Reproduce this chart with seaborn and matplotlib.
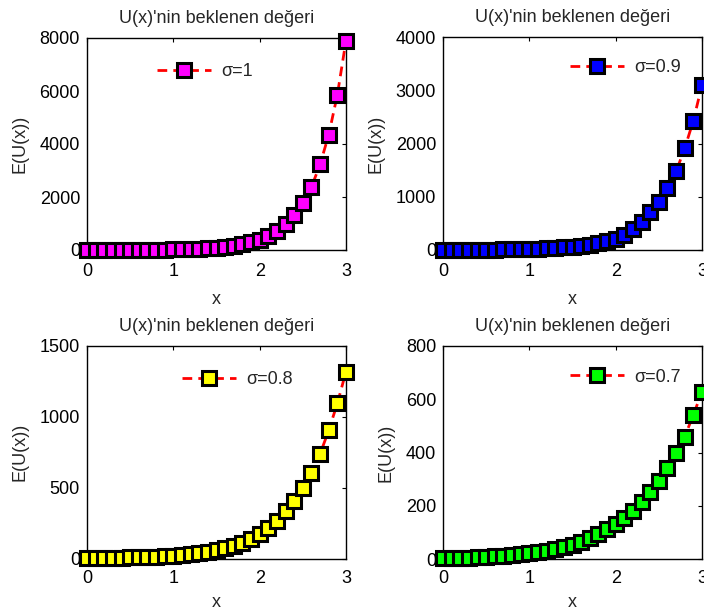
import matplotlib
matplotlib.use("Agg")
import matplotlib.pyplot as plt
import seaborn as sns
import pandas as pd

x = [0.0, 0.1, 0.2, 0.3, 0.4, 0.5, 0.6, 0.7, 0.8, 0.9,
     1.0, 1.1, 1.2, 1.3, 1.4, 1.5, 1.6, 1.7, 1.8, 1.9,
     2.0, 2.1, 2.2, 2.3, 2.4, 2.5, 2.6, 2.7, 2.8, 2.9, 3.0]

eu_s10 = [1, 1.3, 1.8, 2.5, 3.3, 4.5, 6, 8, 11, 15,
          20, 27, 37, 49, 66, 90, 121, 164, 222, 300,
          395, 540, 720, 975, 1320, 1790, 2380, 3230, 4350, 5860, 7900]
eu_s09 = [2, 2.5, 3.2, 4, 5, 6.5, 8, 10, 13, 16,
          20, 25, 31, 39, 49, 62, 78, 98, 123, 160,
          215, 290, 395, 535, 705, 905, 1160, 1475, 1910, 2430, 3100]
eu_s08 = [3, 3.5, 4.2, 5, 6, 7.5, 9, 11, 13.5, 17,
          21, 26, 32, 39, 48, 59, 72, 88, 108, 135,
          172, 212, 265, 332, 408, 500, 607, 738, 905, 1095, 1320]
eu_s07 = [4, 4.5, 5, 5.5, 6.5, 8, 10, 12, 15, 18.5,
          22, 26, 31, 36, 44, 53, 64, 78, 94, 112,
          131, 153, 180, 213, 250, 294, 341, 397, 460, 541, 629]

labels = ["σ=1", "σ=0.9", "σ=0.8", "σ=0.7"]
face_colors = ["#ff00ff", "#0000ff", "#ffff00", "#00ff00"]
series = [eu_s10, eu_s09, eu_s08, eu_s07]
ymaxes = [8000, 4000, 1500, 800]
yticks = [[0, 2000, 4000, 6000, 8000],
          [0, 1000, 2000, 3000, 4000],
          [0, 500, 1000, 1500],
          [0, 200, 400, 600, 800]]
xticks = [0, 1, 2, 3]
title = "U(x)'nin beklenen değeri"
xlabel = "x"
ylabel = "E(U(x))"

sns.set_style("white")
plt.rcParams["font.family"] = ["Liberation Sans", "DejaVu Sans"]
FS = 13

fig = plt.figure(figsize=(7.04, 6.15), dpi=100)
W, H = 704.0, 615.0
# axes boxes in pixels: left, top, right, bottom
boxes = [(87, 38, 346, 250), (443, 37, 702, 250),
         (87, 346, 346, 558.5), (443, 346, 702, 559)]
leg_anchor = [(0.270, 0.840), (0.49, 0.855), (0.367, 0.84), (0.49, 0.854)]
xlabel_pads = [8, 8, 5, 5]
xtick_pads = [9, 9, 8, 8]

for i in range(4):
    l, t, r, b = boxes[i]
    ax = fig.add_axes([l / W, (H - b) / H, (r - l) / W, (b - t) / H])
    df = pd.DataFrame({"x": x, "y": series[i]})
    sns.lineplot(data=df, x="x", y="y", ax=ax, color="red",
                 linestyle=(0, (3.5, 2.2)), linewidth=2,
                 marker="s", markersize=10, markerfacecolor=face_colors[i],
                 markeredgecolor="black", markeredgewidth=2.2,
                 label=labels[i], clip_on=False, zorder=5)
    ax.set_xlim(0, 3)
    ax.set_ylim(0, ymaxes[i])
    ax.set_xticks(xticks)
    ax.set_yticks(yticks[i])
    ax.set_xticklabels([str(v) for v in xticks])
    ax.set_yticklabels([str(v) for v in yticks[i]])
    ax.tick_params(direction="in", length=3, width=0.8, top=True, right=True,
                   labelsize=FS, colors="black")
    ax.tick_params(axis="y", pad=5)
    ax.tick_params(axis="x", pad=xtick_pads[i])
    for s in ax.spines.values():
        s.set_visible(True)
        s.set_color("black")
        s.set_linewidth(1.0)
    ax.set_title(title, fontsize=FS, pad=11)
    ax.set_xlabel(xlabel, fontsize=FS, labelpad=xlabel_pads[i])
    ax.set_ylabel(ylabel, fontsize=FS, labelpad=8)
    ax.legend(loc="center left", bbox_to_anchor=leg_anchor[i], frameon=False,
              borderpad=0, borderaxespad=0, handlelength=3.0,
              handletextpad=0.55, fontsize=FS)

fig.savefig("out.png", dpi=100)
